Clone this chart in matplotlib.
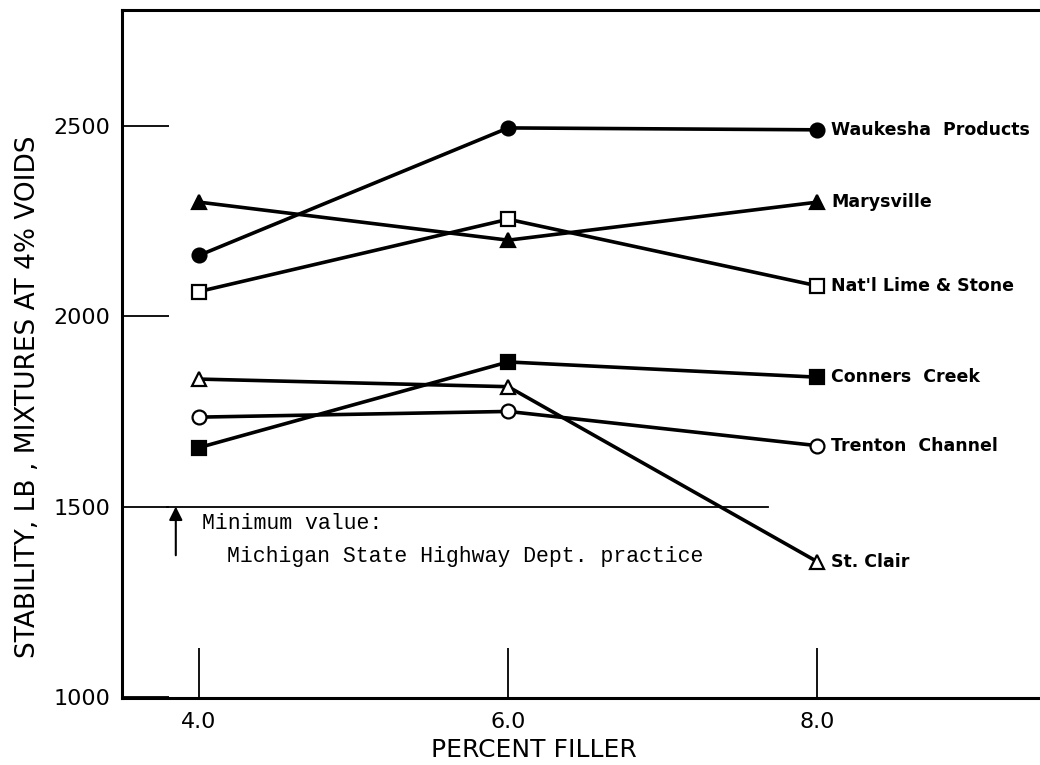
import numpy as np
import matplotlib
matplotlib.use("Agg")
import matplotlib.pyplot as plt

# Data______________________________________________________________________________________________
filler = [4.0, 6.0, 8.0]

waukesha = [2160, 2495, 2490]
marysville = [2300, 2200, 2300]
natl_lime = [2065, 2255, 2080]
conners = [1655, 1880, 1840]
st_clair = [1835, 1815, 1355]
trenton = [1735, 1750, 1660]

names = ["Waukesha  Products", "Marysville", "Nat'l Lime & Stone",
         "Conners  Creek", "St. Clair", "Trenton  Channel"]
series = [waukesha, marysville, natl_lime, conners, st_clair, trenton]
markers = ["o", "^", "s", "s", "^", "o"]
filled = [True, True, False, True, False, False]

min_value = 1500

# Plot______________________________________________________________________________________________
fig = plt.figure(figsize=(10.4, 7.65), dpi=100)
ax = fig.add_axes([0.117, 0.0876, 0.883, 0.8994])

for name, vals, mk, fl in zip(names, series, markers, filled):
    ax.plot(filler, vals, color="black", lw=2.6, marker=mk, ms=10,
            markerfacecolor="black" if fl else "white",
            markeredgecolor="black", markeredgewidth=1.6, zorder=3)
    ax.annotate(name, (filler[-1], vals[-1]), xytext=(10, 0), textcoords="offset points",
                va="center", ha="left", fontsize=12.5, fontweight="bold",
                family="Liberation Sans Narrow")

# minimum line and note
ax.plot([3.79, 7.68], [min_value, min_value], color="black", lw=1.3)
ax.annotate("", xy=(3.85, min_value), xytext=(3.85, 1372),
            arrowprops=dict(arrowstyle="-|>", color="black", lw=1.5,
                            mutation_scale=20, shrinkA=0, shrinkB=0))
ax.text(4.02, 1455, "Minimum value:", family="Liberation Mono", fontsize=15.5,
        va="center", ha="left")
ax.text(4.18, 1370, "Michigan State Highway Dept. practice", family="Liberation Mono",
        fontsize=15.5, va="center", ha="left")

ax.set_xlim(3.5, 9.44)
ax.set_ylim(997, 2805)
ax.set_xticks(filler)
ax.set_xticklabels(["4.0", "6.0", "8.0"])
ax.set_yticks([1000, 1500, 2000, 2500])
ax.tick_params(axis="x", direction="in", length=36, width=1.3, pad=10, labelsize=16)
ax.tick_params(axis="y", direction="in", length=34, width=1.3, pad=8, labelsize=16)

for s in ["left", "top", "bottom"]:
    ax.spines[s].set_linewidth(2.2)
ax.spines["right"].set_visible(False)

ax.set_xlabel("PERCENT FILLER", fontsize=18)
ax.xaxis.set_label_coords(0.449, -0.058)
ax.set_ylabel("STABILITY, LB , MIXTURES AT 4% VOIDS", fontsize=19)
ax.yaxis.set_label_coords(-0.088, 0.438)

plt.savefig("out.png", dpi=100)
